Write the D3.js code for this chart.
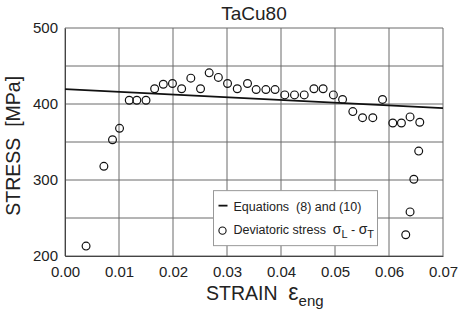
<!DOCTYPE html>
<html>
<head>
<meta charset="utf-8">
<script src="https://cdn.jsdelivr.net/npm/d3@7"></script>
<style>
  body { margin: 0; background: #fff; }
  text { font-family: "Liberation Sans", Arial, sans-serif; fill: #222; white-space: pre; }
</style>
</head>
<body>
<div id="chart"></div>
<script>
// data
var strain = [0.0039, 0.0072, 0.0088, 0.0101, 0.0119, 0.0133, 0.0150, 0.0166, 0.0182, 0.0199,
              0.0216, 0.0233, 0.0251, 0.0267, 0.0284, 0.0301, 0.0319, 0.0338, 0.0354, 0.0372,
              0.0389, 0.0407, 0.0425, 0.0443, 0.0461, 0.0478, 0.0497, 0.0514, 0.0533, 0.0551,
              0.0570, 0.0588, 0.0607, 0.0623, 0.0639, 0.0657, 0.0655, 0.0646, 0.0639, 0.0631];
var stress = [213, 318, 353, 368, 405, 405, 405, 420, 426, 427,
              420, 434, 420, 441, 435, 427, 420, 427, 419, 419,
              419, 412, 412, 412, 420, 420, 412, 406, 390, 382,
              382, 406, 375, 375, 383, 376, 338, 301, 258, 228];
var lineStrain = [0, 0.07];
var lineStress = [419.5, 394.7];
var xTicks = [0, 0.01, 0.02, 0.03, 0.04, 0.05, 0.06, 0.07];
var yTicks = [200, 250, 300, 350, 400, 450, 500];
var yLabelTicks = [200, 300, 400, 500];

var margin = {top: 28, right: 20, bottom: 59, left: 65},
    width = 463 - margin.left - margin.right,
    height = 315 - margin.top - margin.bottom;

var x = d3.scaleLinear().domain([0, 0.07]).range([0, width]);
var y = d3.scaleLinear().domain([200, 500]).range([height, 0]);

var svg = d3.select("#chart").append("svg")
        .attr("width", 463)
        .attr("height", 315)
    .append("g")
        .attr("transform", `translate(${margin.left}, ${margin.top})`);

// grid
svg.append("g")
    .selectAll("line.vgrid")
    .data(xTicks).enter()
    .append("line")
        .attr("x1", d => x(d)).attr("x2", d => x(d))
        .attr("y1", 0).attr("y2", height)
        .attr("stroke", "#6a6a6a").attr("stroke-width", 1);

svg.append("g")
    .selectAll("line.hgrid")
    .data(yTicks).enter()
    .append("line")
        .attr("x1", 0).attr("x2", width)
        .attr("y1", d => y(d)).attr("y2", d => y(d))
        .attr("stroke", "#6a6a6a").attr("stroke-width", 1);

// axes (labels only, grid does the rest)
var xAxis = svg.append("g")
    .attr("transform", `translate(0, ${height})`)
    .call(d3.axisBottom(x).tickValues(xTicks).tickSize(0).tickPadding(10).tickFormat(d3.format(".2f")));
xAxis.select(".domain").attr("stroke", "#444");
xAxis.selectAll("text").style("font-size", "15px").style("font-family", "Liberation Sans, Arial, sans-serif").attr("fill", "#222");

var yAxis = svg.append("g")
    .call(d3.axisLeft(y).tickValues(yLabelTicks).tickSize(0).tickPadding(7));
yAxis.select(".domain").attr("stroke", "#444");
yAxis.selectAll("text").style("font-size", "15px").style("font-family", "Liberation Sans, Arial, sans-serif").attr("fill", "#222");

// model line
var line = d3.line().x(d => x(d[0])).y(d => y(d[1]));
svg.append("path")
    .datum(d3.zip(lineStrain, lineStress))
    .attr("d", line)
    .attr("fill", "none")
    .attr("stroke", "#111")
    .attr("stroke-width", 1.8);

// measured points
svg.selectAll("circle.pt")
    .data(d3.zip(strain, stress)).enter()
    .append("circle")
        .attr("cx", d => x(d[0]))
        .attr("cy", d => y(d[1]))
        .attr("r", 3.9)
        .attr("fill", "none")
        .attr("stroke", "#111")
        .attr("stroke-width", 1.2);

// legend
var lg = svg.append("g").attr("transform", `translate(${x(0.0275)}, ${y(286)})`);
lg.append("rect")
    .attr("width", 164).attr("height", 55)
    .attr("fill", "#fff").attr("stroke", "#999").attr("stroke-width", 1);
lg.append("line")
    .attr("x1", 5).attr("x2", 14).attr("y1", 15).attr("y2", 15)
    .attr("stroke", "#111").attr("stroke-width", 1.8);
lg.append("text").attr("x", 20).attr("y", 20).style("font-size", "12.5px")
    .text("Equations  (8) and (10)");
lg.append("circle")
    .attr("cx", 9).attr("cy", 40).attr("r", 3.6)
    .attr("fill", "none").attr("stroke", "#111").attr("stroke-width", 1.1);
var t2 = lg.append("text").attr("x", 20).attr("y", 43).style("font-size", "12.5px");
t2.append("tspan").text("Deviatoric stress  ");
t2.append("tspan").style("font-size", "14px").text("σ");
t2.append("tspan").attr("dy", 4).style("font-size", "11px").text("L");
t2.append("tspan").attr("dy", -4).text(" - ");
t2.append("tspan").style("font-size", "14px").text("σ");
t2.append("tspan").attr("dy", 4).style("font-size", "11px").text("T");

// title
svg.append("text")
    .attr("x", width / 2)
    .attr("y", -8)
    .style("text-anchor", "middle")
    .style("font-size", "19px")
    .text("TaCu80");

// x label
var xl = svg.append("text")
    .attr("x", 141)
    .attr("y", height + 44)
    .style("font-size", "19.5px");
xl.append("tspan").text("STRAIN  ");
xl.append("tspan").style("font-size", "23px").text("ε");
xl.append("tspan").attr("dy", 6).style("font-size", "15px").text("eng");

// y label
svg.append("text")
    .attr("transform", "rotate(-90)")
    .attr("x", -(y(345) ))
    .attr("y", -45)
    .style("text-anchor", "middle")
    .style("font-size", "19.5px")
    .text("STRESS  [MPa]");
</script>
</body>
</html>
